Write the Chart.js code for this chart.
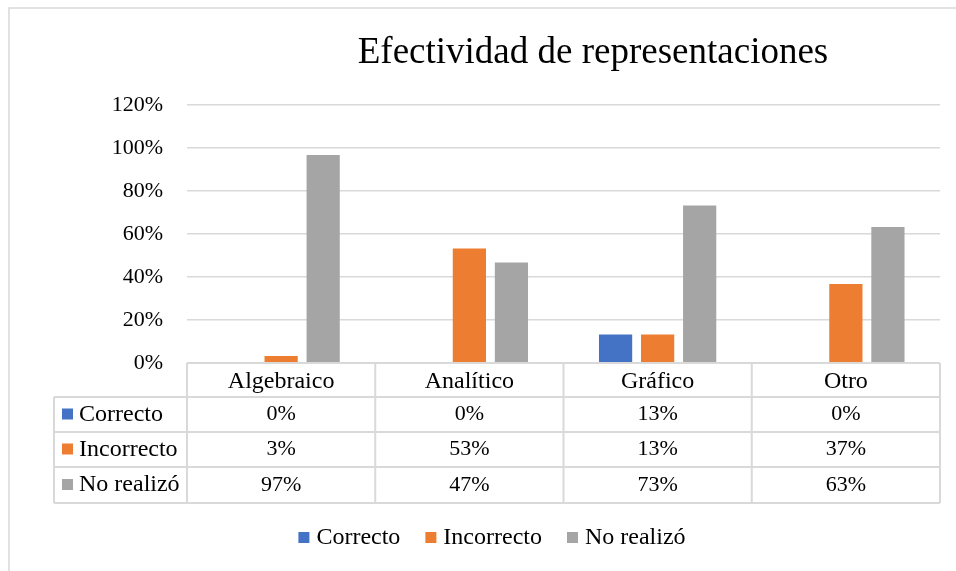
<!DOCTYPE html>
<html>
<head>
<meta charset="utf-8">
<script src="https://cdn.jsdelivr.net/npm/chart.js@4.4.1/dist/chart.umd.min.js"></script>
<style>
body { margin:0; background:#fff; }
</style>
</head>
<body>
<canvas id="efectividad" width="956" height="571"></canvas>
<script>
var categorias = ["Algebraico", "Analítico", "Gráfico", "Otro"];
var correcto = [0, 0, 13.3, 0];
var incorrecto = [3.3, 53.3, 13.3, 36.7];
var noRealizo = [96.7, 46.7, 73.3, 63.3];
var nombres = ["Correcto", "Incorrecto", "No realizó"];
var colores = ["#4472C4", "#ED7D31", "#A5A5A5"];
var titulo = "Efectividad de representaciones";

var fuente = '"Liberation Serif", "Times New Roman", serif';
var gris = "#d9d9d9";

// titulo, tabla de datos y leyenda dibujados a mano
var extras = {
	id: "extras",
	afterDraw: function(chart){
		var ctx = chart.ctx;
		var x = chart.scales.x;
		var area = chart.chartArea;
		var series = [correcto, incorrecto, noRealizo];
		ctx.save();

		// marco exterior
		ctx.strokeStyle = gris;
		ctx.lineWidth = 1.5;
		ctx.strokeRect(9, 8, 980, 600);

		// titulo
		ctx.fillStyle = "#000";
		ctx.font = "37px " + fuente;
		ctx.textAlign = "center";
		ctx.textBaseline = "middle";
		ctx.fillText(titulo, 593, 53);

		// tabla
		var filas = [363, 397, 432, 467, 503];
		var izq = 54;
		var ancho = (area.right - area.left) / categorias.length;
		ctx.strokeStyle = gris;
		ctx.lineWidth = 2;
		ctx.beginPath();
		ctx.moveTo(area.left, filas[0]); ctx.lineTo(area.right, filas[0]);
		for (var f = 1; f < filas.length; f++) {
			ctx.moveTo(izq, filas[f]); ctx.lineTo(area.right, filas[f]);
		}
		ctx.moveTo(izq, filas[1]); ctx.lineTo(izq, filas[4]);
		for (var c = 0; c <= categorias.length; c++) {
			var px = area.left + c * ancho;
			ctx.moveTo(px, filas[0]); ctx.lineTo(px, filas[4]);
		}
		ctx.stroke();

		for (var s = 0; s < series.length; s++) {
			var cy = (filas[s + 1] + filas[s + 2]) / 2;
			ctx.fillStyle = colores[s];
			ctx.fillRect(62, cy - 6, 11, 11);
			ctx.fillStyle = "#000";
			ctx.textAlign = "left";
			ctx.font = "24px " + fuente;
			ctx.fillText(nombres[s], 79, cy);
			ctx.textAlign = "center";
			ctx.font = "22px " + fuente;
			for (var i = 0; i < categorias.length; i++) {
				ctx.fillText(Math.round(series[s][i]) + "%", x.getPixelForTick(i), cy);
			}
		}

		// leyenda
		ctx.font = "24px " + fuente;
		var hueco = 25;
		var total = 0;
		var anchos = [];
		for (var k = 0; k < nombres.length; k++) {
			anchos.push(ctx.measureText(nombres[k]).width);
			total += 11 + 7 + anchos[k];
		}
		total += hueco * (nombres.length - 1);
		var lx = 492 - total / 2;
		ctx.textAlign = "left";
		for (var k = 0; k < nombres.length; k++) {
			ctx.fillStyle = colores[k];
			ctx.fillRect(lx, 532, 11, 11);
			ctx.fillStyle = "#000";
			ctx.fillText(nombres[k], lx + 18, 538);
			lx += 18 + anchos[k] + hueco;
		}
		ctx.restore();
	}
};

const ctx = document.getElementById("efectividad");
let grafico = new Chart(ctx, {
	type: 'bar',
	data: {
		labels: categorias,
		datasets: [
			{ label: nombres[0], data: correcto, backgroundColor: colores[0] },
			{ label: nombres[1], data: incorrecto, backgroundColor: colores[1] },
			{ label: nombres[2], data: noRealizo, backgroundColor: colores[2] }
		]
	},
	options: {
		responsive: false,
		animation: false,
		datasets: { bar: { categoryPercentage: 0.67, barPercentage: 0.79 } },
		layout: { padding: { top: 105, right: 16, bottom: 174, left: 0 } },
		plugins: {
			legend: { display: false },
			title: { display: false },
			tooltip: { enabled: false }
		},
		scales: {
			x: {
				grid: { display: false },
				border: { display: false },
				ticks: { color: "#000", padding: -4, font: { family: fuente, size: 24 } },
				afterFit: function(scale){ scale.height = 34; }
			},
			y: {
				min: 0,
				max: 120,
				grid: { color: gris, lineWidth: 1.5, drawTicks: false },
				border: { display: false },
				ticks: {
					stepSize: 20,
					color: "#000",
					padding: 24,
					font: { family: fuente, size: 22 },
					callback: function(v){ return v + "%"; }
				},
				afterFit: function(scale){ scale.width = 187; }
			}
		}
	},
	plugins: [extras]
});
</script>
</body>
</html>
